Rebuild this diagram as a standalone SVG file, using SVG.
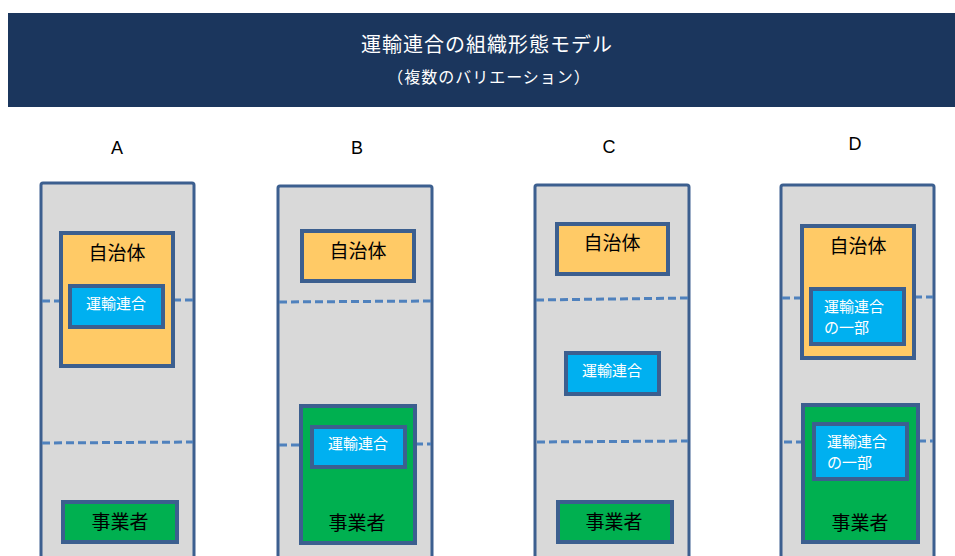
<svg xmlns="http://www.w3.org/2000/svg" width="955" height="556" viewBox="0 0 955 556">
<style>
.jp{font-family:"Noto Sans CJK JP","Liberation Sans",sans-serif}
.col{fill:#d9d9d9;stroke:#3c5f8f;stroke-width:3}
.muni{fill:#ffca66;stroke:#3c5f8f;stroke-width:4}
.op{fill:#00b050;stroke:#3c5f8f;stroke-width:4}
.un{fill:#00b0f0;stroke:#3c5f8f;stroke-width:4}
.dash{stroke:#4f81bd;stroke-width:3;stroke-dasharray:8 4;fill:none}
.lbl{font-family:"Liberation Sans",Arial,sans-serif;font-size:18px;fill:#000;text-anchor:middle}
.bk{font-size:19px;fill:#000;text-anchor:middle}
.wt{font-size:15px;fill:#fff;text-anchor:middle}
.wl{font-size:15px;fill:#fff}
</style>
<rect x="0" y="0" width="955" height="556" fill="#fff"/>
<g id="header">
<rect x="8" y="13" width="947" height="94" fill="#1b365d"/>
<text class="jp" x="487" y="52" font-size="20" letter-spacing="1" fill="#fff" text-anchor="middle">運輸連合の組織形態モデル</text>
<text class="jp" x="489" y="83" font-size="16" letter-spacing="1" fill="#fff" text-anchor="middle">（複数のバリエーション）</text>
</g>
<g id="labels">
<text class="lbl" x="117" y="154">A</text>
<text class="lbl" x="357" y="154">B</text>
<text class="lbl" x="609" y="153">C</text>
<text class="lbl" x="855" y="150">D</text>
</g>
<g id="colA">
<rect class="col" x="41" y="183" width="153" height="380" rx="2"/>
</g>
<g id="colB">
<rect class="col" x="278" y="186" width="154" height="380" rx="2"/>
</g>
<g id="colC">
<rect class="col" x="535" y="185" width="154" height="380" rx="2"/>
</g>
<g id="colD">
<rect class="col" x="781" y="185" width="153" height="380" rx="2"/>
</g>
<g id="connectors">
<line class="dash" x1="42" y1="301" x2="61" y2="301"/>
<line class="dash" x1="173" y1="300" x2="193" y2="300"/>
<line class="dash" x1="42" y1="443" x2="193" y2="442"/>
<line class="dash" x1="279" y1="302" x2="431" y2="301"/>
<line class="dash" x1="279" y1="445" x2="301" y2="445"/>
<line class="dash" x1="415" y1="444" x2="431" y2="444"/>
<line class="dash" x1="536" y1="300" x2="688" y2="298"/>
<line class="dash" x1="537" y1="442" x2="688" y2="441"/>
<line class="dash" x1="782" y1="298" x2="802" y2="298"/>
<line class="dash" x1="914" y1="297" x2="933" y2="297"/>
<line class="dash" x1="784" y1="442" x2="803" y2="442"/>
<line class="dash" x1="918" y1="441" x2="933" y2="441"/>
</g>
<g id="A-muni">
<rect class="muni" x="61" y="233" width="112" height="133"/>
<text class="jp bk" x="117" y="260">自治体</text>
</g>
<g id="A-union">
<rect class="un" x="70" y="286" width="93" height="41"/>
<text class="jp wt" x="116" y="309">運輸連合</text>
</g>
<g id="A-op">
<rect class="op" x="63" y="502" width="114" height="40"/>
<text class="jp bk" x="120" y="529">事業者</text>
</g>
<g id="B-muni">
<rect class="muni" x="302" y="231" width="112" height="50"/>
<text class="jp bk" x="358" y="258">自治体</text>
</g>
<g id="B-op">
<rect class="op" x="301" y="406" width="114" height="137"/>
<text class="jp bk" x="357" y="530">事業者</text>
</g>
<g id="B-union">
<rect class="un" x="312" y="427" width="93" height="40"/>
<text class="jp wt" x="358" y="449">運輸連合</text>
</g>
<g id="C-muni">
<rect class="muni" x="557" y="224" width="111" height="50"/>
<text class="jp bk" x="612" y="250">自治体</text>
</g>
<g id="C-union">
<rect class="un" x="566" y="353" width="93" height="41"/>
<text class="jp wt" x="612" y="376">運輸連合</text>
</g>
<g id="C-op">
<rect class="op" x="558" y="502" width="114" height="40"/>
<text class="jp bk" x="614" y="529">事業者</text>
</g>
<g id="D-muni">
<rect class="muni" x="802" y="226" width="112" height="132"/>
<text class="jp bk" x="858" y="253">自治体</text>
</g>
<g id="D-union1">
<rect class="un" x="811" y="289" width="93" height="55"/>
<text class="jp wl" x="824" y="312">運輸連合</text>
<text class="jp wl" x="824" y="333">の一部</text>
</g>
<g id="D-op">
<rect class="op" x="803" y="405" width="115" height="137"/>
<text class="jp bk" x="860" y="530">事業者</text>
</g>
<g id="D-union2">
<rect class="un" x="814" y="424" width="93" height="55"/>
<text class="jp wl" x="827" y="447">運輸連合</text>
<text class="jp wl" x="827" y="468">の一部</text>
</g>
</svg>
